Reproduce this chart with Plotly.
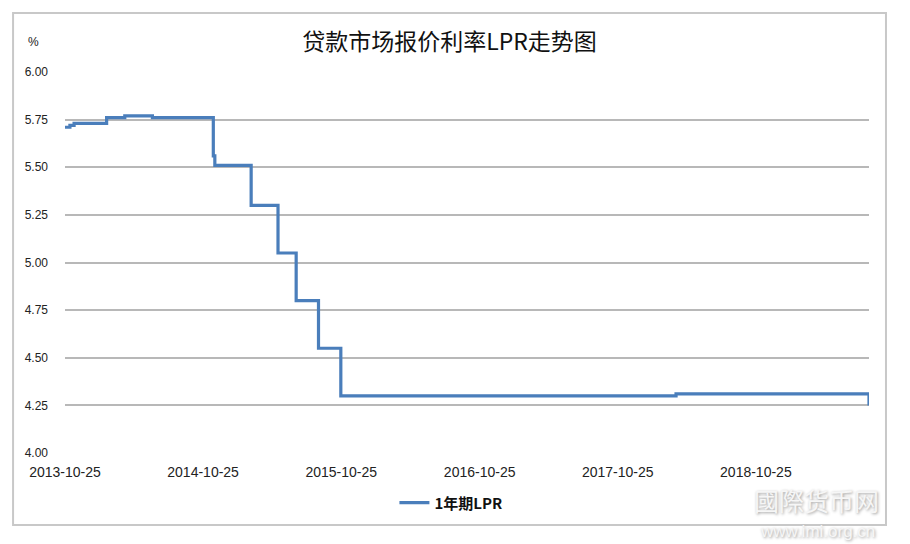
import plotly.graph_objects as go

# Data (1-year LPR, %)
dates = ["2013-10-25", "2013-11-07", "2013-11-18", "2014-02-12", "2014-04-01",
         "2014-06-13", "2014-11-21", "2014-11-25", "2015-03-01", "2015-05-11",
         "2015-06-28", "2015-08-26", "2015-10-24", "2018-03-28", "2019-08-16",
         "2019-08-20"]
lpr_1y = [5.71, 5.72, 5.73, 5.76, 5.77,
          5.76, 5.56, 5.51, 5.30, 5.05,
          4.80, 4.55, 4.30, 4.31, 4.31,
          4.25]

tick_dates = ["2013-10-25", "2014-10-25", "2015-10-25", "2016-10-25", "2017-10-25", "2018-10-25"]
y_ticks = [4.00, 4.25, 4.50, 4.75, 5.00, 5.25, 5.50, 5.75, 6.00]

title_text = "贷款市场报价利率LPR走势图"
series_name = "1年期LPR"

fig = go.Figure()
fig.add_trace(go.Scatter(
    x=dates, y=lpr_1y, mode="lines", line_shape="hv",
    name=series_name,
    line=dict(color="#4a7ebb", width=3.2),
))

fig.update_layout(
    width=910, height=544,
    margin=dict(l=65, r=41, t=72, b=91),
    paper_bgcolor="white", plot_bgcolor="white",
    title=dict(text=title_text, x=0.494, xanchor="center", y=0.922, yanchor="middle",
               font=dict(family="Noto Sans CJK SC", size=23, color="#111")),
    showlegend=True,
    legend=dict(orientation="h", x=0.48, xanchor="center", y=-0.131, yanchor="middle",
                font=dict(family="Noto Sans CJK SC", size=15, color="#111", weight="bold"),
                itemwidth=30),
    shapes=[dict(type="rect", xref="paper", yref="paper",
                 x0=-52/805, x1=(887-65)/805, y0=-(525-453)/381, y1=(453-13)/381,
                 line=dict(color="#c8c8c8", width=2), layer="below")],
    annotations=[
        dict(text="%", xref="paper", yref="paper", x=-32/805, y=(453-42)/381,
             showarrow=False, xanchor="center", yanchor="middle",
             font=dict(family="Liberation Sans", size=12, color="#222")),
        dict(text="國際货币网", xref="paper", yref="paper", x=(817-65)/805, y=-(500-453)/381,
             showarrow=False, xanchor="center", yanchor="middle",
             font=dict(family="Noto Sans CJK TC", size=25, color="#f6f6f6",
                       shadow="1px 1px 3px #9a9a9a")),
        dict(text="www.imi.org.cn", xref="paper", yref="paper", x=(818-65)/805, y=-(531-453)/381,
             showarrow=False, xanchor="center", yanchor="middle",
             font=dict(family="Liberation Sans", size=17, color="#f6f6f6",
                       shadow="1px 1px 3px #9a9a9a")),
    ],
)

fig.update_xaxes(
    type="date", range=["2013-10-25", "2019-08-20"],
    tickvals=tick_dates, ticktext=tick_dates,
    showgrid=False, showline=False, ticks="", zeroline=False,
    ticklabelstandoff=9,
    tickfont=dict(family="Liberation Sans", size=14, color="#222"),
)
fig.update_yaxes(
    range=[4.0, 6.0], tickvals=y_ticks, ticktext=[f"{v:.2f}" for v in y_ticks],
    showgrid=True, gridcolor="#b8b8b8", gridwidth=1.5,
    showline=False, zeroline=False, ticks="", ticklabelstandoff=16,
    tickfont=dict(family="Liberation Sans", size=12, color="#222"),
)

fig.write_html("out.html", config={"displayModeBar": False},
               post_script="document.body.style.margin='0';")
